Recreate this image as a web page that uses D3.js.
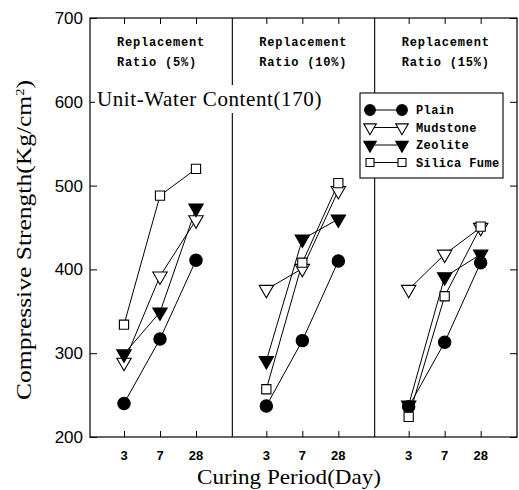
<!DOCTYPE html>
<html>
<head>
<meta charset="utf-8">
<script src="https://cdn.jsdelivr.net/npm/d3@7"></script>
<style>
  body { margin: 0; background: #fff; }
  svg { display: block; }
</style>
</head>
<body>
<div id="chart"></div>
<script>
// curing days (x categories in each panel) and panel titles
const days = ["3", "7", "28"];
const ratios = ["Ratio (5%)", "Ratio (10%)", "Ratio (15%)"];
const yTicks = [200, 300, 400, 500, 600, 700];

// compressive strength per panel (5%, 10%, 15%), values at 3 / 7 / 28 days
const plain      = [[240, 317, 411], [237, 315, 410], [236, 313, 408]];
const mudstone   = [[289, 392, 459], [376, 401, 494], [376, 418, 450]];
const zeolite    = [[299, 349, 473], [291, 436, 460], [238, 391, 418]];
const silicaFume = [[334, 488, 520], [257, 408, 503], [224, 368, 451]];

const seriesNames = ["Plain", "Mudstone", "Zeolite", "Silica Fume"];
const seriesData = [plain, mudstone, zeolite, silicaFume];

const width = 519, height = 490;
const margin = { top: 18, right: 2, bottom: 53, left: 90 };
const plotW = width - margin.left - margin.right;
const plotH = height - margin.top - margin.bottom;

const svg = d3.select("#chart").append("svg")
    .attr("width", width)
    .attr("height", height);

const g = svg.append("g")
    .attr("transform", `translate(${margin.left},${margin.top})`);

const y = d3.scaleLinear().domain([200, 700]).range([plotH, 0]);
const panelX = d3.scaleBand().domain(d3.range(3)).range([0, plotW]);
const x = d3.scalePoint().domain(days).range([34, 106]);

const serif = "'Liberation Serif', 'DejaVu Serif', serif";
const mono = "'Liberation Mono', 'DejaVu Sans Mono', monospace";

// symbol drawing
const symbolSize = [120, 90, 90, 85];
const symbolType = [d3.symbolCircle, d3.symbolTriangle, d3.symbolTriangle, d3.symbolSquare];
const symbolFill = ["#000", "#fff", "#000", "#fff"];
const symbolRot = [0, 180, 180, 0];
function drawSymbol(sel, i, scale) {
    sel.append("path")
        .attr("d", d3.symbol().type(symbolType[i]).size(symbolSize[i] * (scale || 1))())
        .attr("fill", symbolFill[i])
        .attr("stroke", "#000")
        .attr("stroke-width", 1.1);
}

// frame and panel dividers
g.append("rect")
    .attr("width", plotW).attr("height", plotH)
    .attr("fill", "none").attr("stroke", "#000").attr("stroke-width", 1.2);

[1, 2].forEach(p => {
    g.append("line")
        .attr("x1", panelX(p)).attr("x2", panelX(p))
        .attr("y1", 0).attr("y2", plotH)
        .attr("stroke", "#000").attr("stroke-width", 1.1);
});

// y axis (inward ticks on both sides)
const yAxisL = g.append("g").call(d3.axisRight(y).tickValues(yTicks).tickSize(7).tickFormat(""));
yAxisL.select(".domain").remove();
const yAxisR = g.append("g").attr("transform", `translate(${plotW},0)`)
    .call(d3.axisLeft(y).tickValues(yTicks).tickSize(7).tickFormat(""));
yAxisR.select(".domain").remove();

g.selectAll(".ylab").data(yTicks).enter().append("text")
    .attr("class", "ylab")
    .attr("x", -7)
    .attr("y", d => y(d) + 6)
    .attr("text-anchor", "end")
    .attr("font-family", "'Liberation Sans', Arial, sans-serif")
    .attr("font-size", 17)
    .text(d => d);

// panels
const panels = g.selectAll(".panel").data(d3.range(3)).enter().append("g")
    .attr("class", "panel")
    .attr("transform", p => `translate(${panelX(p)},0)`);

panels.each(function (p) {
    const pg = d3.select(this);

    const xb = pg.append("g").attr("transform", `translate(0,${plotH})`)
        .call(d3.axisTop(x).tickSize(6).tickFormat(""));
    xb.select(".domain").remove();
    const xt = pg.append("g").call(d3.axisBottom(x).tickSize(6).tickFormat(""));
    xt.select(".domain").remove();

    pg.selectAll(".xlab").data(days).enter().append("text")
        .attr("x", d => x(d))
        .attr("y", plotH + 23)
        .attr("text-anchor", "middle")
        .attr("font-family", "'Liberation Sans', Arial, sans-serif")
        .attr("font-weight", "bold")
        .attr("font-size", 13)
        .text(d => d);

    pg.append("text")
        .attr("x", 27).attr("y", 28)
        .attr("font-family", mono).attr("font-weight", "bold")
        .attr("font-size", 12).attr("letter-spacing", 0.8)
        .text("Replacement");
    pg.append("text")
        .attr("x", 27).attr("y", 48)
        .attr("font-family", mono).attr("font-weight", "bold")
        .attr("font-size", 12).attr("letter-spacing", 0.8)
        .text(ratios[p]);

    const line = d3.line().x((d, i) => x(days[i])).y(d => y(d));
    seriesData.forEach(s => {
        pg.append("path")
            .attr("d", line(s[p]))
            .attr("fill", "none")
            .attr("stroke", "#000")
            .attr("stroke-width", 1);
    });
    seriesData.forEach((s, si) => {
        s[p].forEach((v, i) => {
            const m = pg.append("g")
                .attr("transform", `translate(${x(days[i])},${y(v)}) rotate(${symbolRot[si]})`);
            drawSymbol(m, si);
        });
    });
});

// unit-water content note (white backing cuts the divider)
const note = g.append("g").attr("transform", "translate(7,88)");
const noteText = note.append("text")
    .attr("font-family", serif)
    .attr("font-size", 21)
    .attr("letter-spacing", 0.6)
    .text("Unit-Water Content(170)");
const nb = noteText.node().getBBox();
note.insert("rect", "text")
    .attr("x", nb.x - 2).attr("y", nb.y - 2)
    .attr("width", nb.width + 4).attr("height", nb.height + 4)
    .attr("fill", "#fff");

// legend
const legend = g.append("g").attr("transform", "translate(270,75)");
legend.append("rect")
    .attr("width", 143).attr("height", 85)
    .attr("fill", "#fff").attr("stroke", "#000").attr("stroke-width", 1.1);
seriesNames.forEach((name, i) => {
    const row = legend.append("g").attr("transform", `translate(0,${17 + i * 17.5})`);
    row.append("line")
        .attr("x1", 10).attr("x2", 42)
        .attr("stroke", "#000").attr("stroke-width", 1);
    [10, 42].forEach(cx => {
        const m = row.append("g").attr("transform", `translate(${cx},0) rotate(${symbolRot[i]})`);
        drawSymbol(m, i, 0.75);
    });
    row.append("text")
        .attr("x", 56).attr("y", 4)
        .attr("font-family", mono).attr("font-weight", "bold")
        .attr("font-size", 12).attr("letter-spacing", 0.4)
        .text(name);
});

// axis titles
svg.append("text")
    .attr("x", 289)
    .attr("y", 484)
    .attr("text-anchor", "middle")
    .attr("font-family", serif)
    .attr("font-size", 21)
    .attr("textLength", 184)
    .attr("lengthAdjust", "spacingAndGlyphs")
    .text("Curing Period(Day)");

svg.append("text")
    .attr("transform", "translate(31,240) rotate(-90)")
    .attr("text-anchor", "middle")
    .attr("font-family", serif)
    .attr("font-size", 21)
    .attr("textLength", 320)
    .attr("lengthAdjust", "spacingAndGlyphs")
    .html("Compressive Strength(Kg/cm<tspan dy='-7' font-size='12'>2</tspan><tspan dy='7'>)</tspan>");
</script>
</body>
</html>
